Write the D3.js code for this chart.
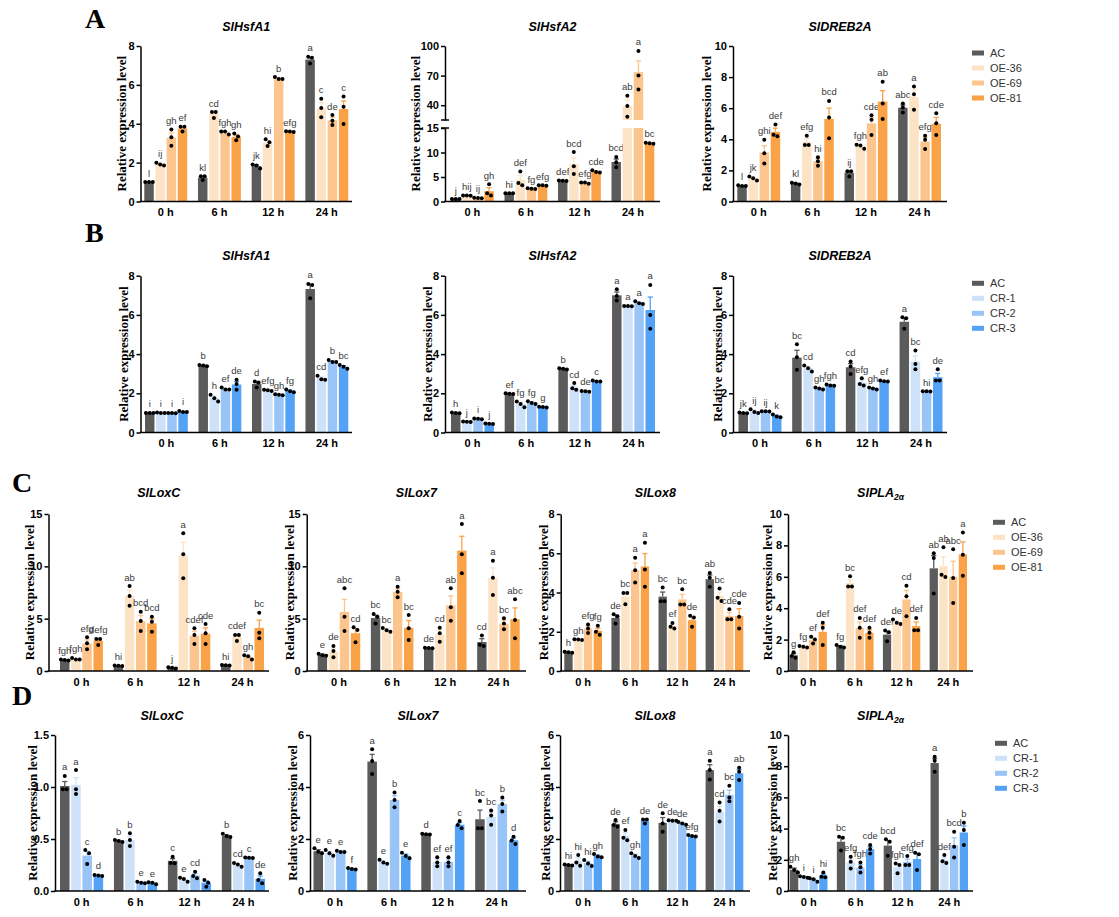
<!DOCTYPE html>
<meta charset="utf-8">
<head>
<title>Relative expression level</title>
<style>
  body{ margin:0; background:#fff; }
  svg text{ font-family: Arial, "Liberation Sans", sans-serif; }
  .tick text{ font-size:11px; font-weight:bold; fill:#000; }
  .tick line, .domain{ stroke:#000; stroke-width:1.5px; }
</style>
</head>
<body>
<div id="fig"></div>
<script src="https://d3js.org/d3.v7.min.js"></script>
<script>
// ---- data: rows = time points, columns = lines ----
var timePoints = ["0 h", "6 h", "12 h", "24 h"];
var linesOE = ["AC", "OE-36", "OE-69", "OE-81"];
var linesCR = ["AC", "CR-1", "CR-2", "CR-3"];

// A  SlHsfA1 (OE)
var aHsfA1Mean = [[1.0,1.92,3.29,3.75],[1.23,4.5,3.55,3.33],[1.82,3.03,6.33,3.6],[7.3,4.8,4.18,4.76]];
var aHsfA1Reps = [
  [[1.0,1.0,1.0],[2.0,1.9,1.85],[3.7,3.3,2.87],[3.85,3.85,3.6]],
  [[1.3,1.3,1.1],[4.6,4.6,4.3],[3.6,3.6,3.45],[3.5,3.35,3.15]],
  [[1.9,1.85,1.7],[3.2,3.05,2.85],[6.4,6.3,6.3],[3.62,3.6,3.58]],
  [[7.45,7.4,7.1],[5.28,4.81,4.33],[4.45,4.16,3.94],[5.4,4.88,3.99]]];
var aHsfA1Sig = [["l","ij","gh","ef"],["kl","cd","fgh","gh"],["jk","hi","b","efg"],["a","c","de","c"]];

// A  SlHsfA2 (OE), broken axis
var aHsfA2Mean = [[0.5,1.2,0.7,2.1],[1.7,4.4,2.6,3.25],[4.25,7.6,3.8,6.1],[8.05,39,73.5,11.9]];
var aHsfA2Reps = [
  [[0.5,0.5,0.5],[1.25,1.2,1.15],[0.75,0.7,0.65],[3.5,1.7,1.2]],
  [[1.7,1.7,1.7],[6.1,3.8,3.3],[2.7,2.6,2.55],[3.3,3.3,3.2]],
  [[4.3,4.25,4.2],[10.1,7.2,5.6],[3.9,3.9,3.6],[6.4,6.0,5.9]],
  [[9.1,8.0,7.0],[49.5,39.3,28.2],[95,70,56],[12.0,11.9,11.8]]];
var aHsfA2Sig = [["j","hij","ij","gh"],["hi","def","fg","efg"],["def","bcd","efg","cde"],["bcd","ab","a","bc"]];

// A  SlDREB2A (OE)
var aDrebMean = [[1.0,1.48,3.15,4.48],[1.15,3.83,2.58,5.31],[1.85,3.55,5.02,6.43],[6.03,6.73,3.86,5.0]];
var aDrebReps = [
  [[1.0,1.0,1.05],[1.6,1.5,1.35],[3.97,3.1,2.45],[4.95,4.3,4.2]],
  [[1.2,1.15,1.1],[4.23,3.63,3.63],[2.84,2.59,2.3],[6.47,5.4,4.06]],
  [[1.95,1.95,1.6],[3.65,3.6,3.4],[5.55,5.25,4.27],[7.7,6.3,5.3]],
  [[6.3,6.05,5.73],[7.4,6.9,5.9],[4.23,3.97,3.38],[5.68,5.04,4.27]]];
var aDrebSig = [["l","jk","ghi","def"],["kl","efg","hi","bcd"],["ij","fgh","cde","ab"],["abc","a","efg","cde"]];

// B  SlHsfA1 (CR)
var bHsfA1Mean = [[1.0,1.0,1.0,1.05],[3.42,1.75,2.2,2.45],[2.48,2.15,1.92,2.12],[7.32,2.77,3.62,3.35]];
var bHsfA1Reps = [
  [[1.0,1.0,1.0],[1.02,1.0,1.0],[1.0,1.0,0.98],[1.1,1.05,1.05]],
  [[3.45,3.42,3.38],[1.92,1.75,1.58],[2.3,2.2,2.2],[2.69,2.47,2.18]],
  [[2.6,2.55,2.3],[2.18,2.15,2.12],[1.95,1.92,1.9],[2.2,2.1,2.05]],
  [[7.58,7.53,6.85],[2.89,2.72,2.69],[3.7,3.6,3.6],[3.45,3.35,3.25]]];
var bHsfA1Sig = [["i","i","i","i"],["b","h","ef","de"],["d","efg","gh","fg"],["a","cd","b","bc"]];

// B  SlHsfA2 (CR)
var bHsfA2Mean = [[1.0,0.55,0.7,0.45],[1.98,1.45,1.52,1.3],[3.25,2.3,2.1,2.6],[7.0,6.45,6.6,6.25]];
var bHsfA2Reps = [
  [[1.02,1.0,0.98],[0.56,0.55,0.54],[0.72,0.7,0.68],[0.46,0.45,0.44]],
  [[2.0,1.98,1.97],[1.58,1.45,1.29],[1.6,1.5,1.45],[1.32,1.3,1.28]],
  [[3.28,3.25,3.22],[2.52,2.26,2.18],[2.12,2.1,2.08],[2.65,2.6,2.6]],
  [[7.31,6.97,6.73],[6.46,6.45,6.44],[6.7,6.6,6.55],[7.53,6.0,5.29]]];
var bHsfA2Sig = [["h","j","i","j"],["ef","fg","fg","g"],["b","cd","de","c"],["a","a","a","a"]];

// B  SlDREB2A (CR)
var bDrebMean = [[1.0,1.07,1.08,0.84],[3.82,3.27,2.25,2.41],[3.33,2.55,2.25,2.62],[5.65,3.62,2.1,2.82]];
var bDrebReps = [
  [[1.02,1.0,0.98],[1.19,1.04,0.99],[1.09,1.08,1.07],[0.92,0.82,0.78]],
  [[4.5,3.84,3.2],[3.42,3.28,3.11],[2.3,2.25,2.2],[2.45,2.4,2.38]],
  [[3.62,3.37,2.99],[2.77,2.48,2.4],[2.3,2.25,2.2],[2.65,2.62,2.6]],
  [[5.88,5.83,5.29],[4.18,3.5,3.23],[2.11,2.1,2.09],[3.23,2.65,2.65]]];
var bDrebSig = [["jk","ij","ij","k"],["bc","cd","gh","fgh"],["cd","efg","gh","ef"],["a","bc","hi","de"]];

// C  SlLoxC (OE)
var cLoxCMean = [[1.05,1.15,2.64,2.9],[0.5,7.18,4.76,4.55],[0.3,11.05,3.37,3.56],[0.55,3.25,1.33,4.12]];
var cLoxCReps = [
  [[1.1,1.05,1.0],[1.25,1.1,1.1],[3.22,2.64,2.07],[3.06,3.06,2.48]],
  [[0.52,0.5,0.48],[8.12,7.17,6.24],[5.67,4.78,3.82],[5.19,4.71,3.76]],
  [[0.35,0.3,0.25],[13.15,11.15,8.85],[4.08,3.44,2.58],[4.49,3.6,2.58]],
  [[0.57,0.55,0.53],[3.44,3.44,2.87],[1.5,1.4,1.1],[5.57,3.66,3.12]]];
var cLoxCSig = [["fgh","fgh","efg","defg"],["hi","ab","bcd","bcd"],["j","a","cdef","cde"],["hi","cdef","gh","bc"]];

// C  SlLox7 (OE)
var cLox7Mean = [[1.55,1.87,5.64,3.61],[5.06,3.92,7.56,4.13],[2.2,3.51,6.27,11.5],[2.77,8.9,4.52,4.95]];
var cLox7Reps = [
  [[1.65,1.5,1.45],[2.39,1.91,1.31],[7.9,5.19,3.82],[4.17,3.92,2.74]],
  [[5.45,5.19,4.55],[4.1,3.9,3.75],[8.06,7.58,7.04],[5.35,4.08,2.96]],
  [[2.22,2.2,2.18],[4.14,3.6,2.8],[7.9,6.1,4.8],[14.04,11.15,9.33]],
  [[3.4,2.5,2.4],[10.54,8.92,7.26],[5.03,4.55,3.98],[6.85,4.87,3.12]]];
var cLox7Sig = [["e","de","abc","cd"],["bc","bc","a","bc"],["de","cd","ab","a"],["cd","a","bc","abc"]];

// C  SlLox8 (OE)
var cLox8Mean = [[0.96,1.6,2.16,2.05],[2.7,3.79,5.14,5.33],[3.79,2.29,3.65,2.59],[4.68,3.83,2.81,2.8]];
var cLox8Reps = [
  [[0.98,0.96,0.93],[1.62,1.6,1.58],[2.37,2.16,1.94],[2.3,2.0,1.85]],
  [[2.89,2.79,2.42],[3.98,3.98,3.4],[5.77,5.14,4.51],[6.54,5.17,4.29]],
  [[4.26,3.56,3.56],[2.45,2.25,2.16],[4.17,3.39,3.39],[2.81,2.72,2.25]],
  [[5.0,4.75,4.29],[4.2,3.73,3.57],[3.15,2.64,2.64],[3.47,2.76,2.16]]];
var cLox8Sig = [["h","gh","efg","fg"],["de","bc","a","a"],["bc","ef","bc","de"],["ab","bc","cde","cde"]];

// C  SlPLA2a (OE)
var cPlaMean = [[1.0,1.55,1.98,2.49],[1.57,5.6,2.75,2.43],[2.32,3.1,4.56,2.86],[6.54,6.67,6.0,7.43]];
var cPlaReps = [
  [[1.2,0.95,0.85],[1.6,1.55,1.5],[2.18,2.0,1.75],[3.07,2.75,1.65]],
  [[1.65,1.55,1.5],[6.03,5.39,5.39],[3.38,2.75,2.11],[2.75,2.43,2.11]],
  [[2.58,2.47,1.9],[3.28,3.07,3.0],[5.43,4.76,3.49],[3.38,2.6,2.6]],
  [[7.5,7.19,4.93],[7.89,6.13,5.99],[7.76,5.92,4.33],[8.82,7.4,6.07]]];
var cPlaSig = [["g","fg","ef","def"],["fg","bc","def","def"],["def","de","cd","def"],["ab","ab","abc","a"]];

// D  SlLoxC (CR)
var dLoxCMean = [[1.01,1.02,0.34,0.15],[0.48,0.49,0.08,0.077],[0.29,0.11,0.15,0.08],[0.53,0.253,0.32,0.117]];
var dLoxCReps = [
  [[1.106,0.978,0.978],[1.163,0.978,0.933],[0.394,0.362,0.26],[0.155,0.15,0.145]],
  [[0.49,0.48,0.47],[0.555,0.49,0.433],[0.09,0.08,0.074],[0.085,0.08,0.065]],
  [[0.33,0.27,0.266],[0.128,0.115,0.09],[0.186,0.144,0.122],[0.106,0.08,0.042]],
  [[0.55,0.53,0.52],[0.27,0.256,0.234],[0.322,0.32,0.318],[0.17,0.106,0.074]]];
var dLoxCSig = [["a","a","c","d"],["b","b","e","e"],["c","e","cd",""],["b","cd","c","de"]];

// D  SlLox7 (CR)
var dLox7Mean = [[1.53,1.46,1.52,0.85],[4.98,1.12,3.5,1.36],[2.18,1.12,1.12,2.55],[2.76,2.85,3.34,1.95]];
var dLox7Reps = [
  [[1.64,1.51,1.45],[1.58,1.45,1.36],[1.55,1.5,1.5],[0.88,0.85,0.83]],
  [[5.45,5.0,4.5],[1.2,1.1,1.05],[3.79,3.5,3.22],[1.47,1.35,1.26]],
  [[2.2,2.18,2.17],[1.3,1.1,0.95],[1.3,1.1,0.95],[2.69,2.54,2.41]],
  [[3.46,2.41,2.41],[3.1,2.9,2.55],[3.6,3.35,3.06],[2.09,1.94,1.81]]];
var dLox7Sig = [["e","e","e","f"],["a","e","b","e"],["d","ef","ef","c"],["bc","bc","b","d"]];

// D  SlLox8 (CR)
var dLox8Mean = [[1.0,1.15,1.07,1.35],[2.58,2.12,1.36,2.7],[2.62,2.7,2.6,2.12],[4.65,3.05,3.7,4.53]];
var dLox8Reps = [
  [[1.02,1.0,0.98],[1.38,1.1,0.97],[1.19,1.06,0.96],[1.42,1.33,1.3]],
  [[2.73,2.54,2.47],[2.35,2.05,1.95],[1.45,1.35,1.27],[2.75,2.75,2.6]],
  [[2.99,2.6,2.28],[2.72,2.7,2.7],[2.65,2.6,2.55],[2.15,2.12,2.1]],
  [[5.01,4.65,4.29],[3.4,3.09,2.67],[4.05,3.6,3.45],[4.74,4.59,4.27]]];
var dLox8Sig = [["hi","hi","hi","gh"],["de","ef","gh","de"],["de","de","de","efg"],["a","cd","bc","ab"]];

// D  SlPLA2a (CR)
var dPlaMean = [[1.36,0.9,0.72,0.99],[3.16,1.84,1.5,2.68],[2.91,1.52,1.86,2.05],[8.2,2.0,2.93,3.75]];
var dPlaReps = [
  [[1.56,1.35,1.18],[0.95,0.9,0.85],[0.81,0.75,0.6],[1.18,0.92,0.88]],
  [[3.48,3.42,2.59],[2.2,1.88,1.45],[1.82,1.52,1.18],[2.95,2.69,2.41]],
  [[3.31,3.16,2.26],[1.77,1.67,1.13],[2.24,1.67,1.67],[2.45,2.35,1.35]],
  [[8.61,8.35,7.65],[2.3,1.9,1.8],[3.8,2.84,2.14],[4.38,3.91,2.95]]];
var dPlaSig = [["gh","i","i","hi"],["bc","efg","fgh","cde"],["bcd","fgh","efg","def"],["a","def","bcd","b"]];

// ---- styles / layout ----
var colorsOE = ["#5b5b5b", "#fde3c6", "#fcc58e", "#f9a247"];
var colorsCR = ["#5b5b5b", "#cde1f9", "#98c4f7", "#54a2f6"];

var rows = {
  A: {top: 46,    bottom: 201.5, title: 31,  letter: 28},
  B: {top: 275.7, bottom: 432.5, title: 260, letter: 242},
  C: {top: 514,   bottom: 671,   title: 497, letter: 492},
  D: {top: 735,   bottom: 891,   title: 720, letter: 705}
};

var charts = [
  {row:"A", title:"SlHsfA1", sub:"", mean:aHsfA1Mean, reps:aHsfA1Reps, sig:aHsfA1Sig, oe:true, max:8, ticks:[0,2,4,6,8], ax:140.5, xEnd:352, r0:144.3, r1:348.3, ylab:19.5},
  {row:"A", title:"SlHsfA2", sub:"", mean:aHsfA2Mean, reps:aHsfA2Reps, sig:aHsfA2Sig, oe:true, broken:{lowMax:15, lowTicks:[0,5,10,15], lowTop:128, highMin:25, highMax:100, highTicks:[40,70,100], highBottom:120}, ax:445, xEnd:660, r0:451, r1:654.3, ylab:30},
  {row:"A", title:"SlDREB2A", sub:"", mean:aDrebMean, reps:aDrebReps, sig:aDrebSig, oe:true, max:10, ticks:[0,2,4,6,8,10], ax:733, xEnd:947, r0:737.3, r1:941, ylab:27},
  {row:"B", title:"SlHsfA1", sub:"", mean:bHsfA1Mean, reps:bHsfA1Reps, sig:bHsfA1Sig, oe:false, max:8, ticks:[0,2,4,6,8], ax:140.5, xEnd:352, r0:145, r1:348.3, ylab:17},
  {row:"B", title:"SlHsfA2", sub:"", mean:bHsfA2Mean, reps:bHsfA2Reps, sig:bHsfA2Sig, oe:false, max:8, ticks:[0,2,4,6,8], ax:445, xEnd:660, r0:451, r1:655, ylab:18},
  {row:"B", title:"SlDREB2A", sub:"", mean:bDrebMean, reps:bDrebReps, sig:bDrebSig, oe:false, max:8, ticks:[0,2,4,6,8], ax:733, xEnd:947, r0:738.5, r1:942.5, ylab:16},
  {row:"C", title:"SlLoxC", sub:"", mean:cLoxCMean, reps:cLoxCReps, sig:cLoxCSig, oe:true, max:15, ticks:[0,5,10,15], ax:48.5, xEnd:269, r0:60, r1:264, ylab:19},
  {row:"C", title:"SlLox7", sub:"", mean:cLox7Mean, reps:cLox7Reps, sig:cLox7Sig, oe:true, max:15, ticks:[0,5,10,15], ax:306.7, xEnd:526, r0:317.7, r1:519.7, ylab:17},
  {row:"C", title:"SlLox8", sub:"", mean:cLox8Mean, reps:cLox8Reps, sig:cLox8Sig, oe:true, max:8, ticks:[0,2,4,6,8], ax:560.7, xEnd:750, r0:564.3, r1:743.3, ylab:17},
  {row:"C", title:"SlPLA", sub:"2α", mean:cPlaMean, reps:cPlaReps, sig:cPlaSig, oe:true, max:10, ticks:[0,2,4,6,8,10], ax:788, xEnd:973, r0:789.5, r1:967, ylab:21},
  {row:"D", title:"SlLoxC", sub:"", mean:dLoxCMean, reps:dLoxCReps, sig:dLoxCSig, oe:false, max:1.5, ticks:[0,0.5,1,1.5], fmt:".1f", ax:55, xEnd:269, r0:60, r1:265, ylab:23},
  {row:"D", title:"SlLox7", sub:"", mean:dLox7Mean, reps:dLox7Reps, sig:dLox7Sig, oe:false, max:6, ticks:[0,2,4,6], ax:310, xEnd:526, r0:313.5, r1:518.3, ylab:18},
  {row:"D", title:"SlLox8", sub:"", mean:dLox8Mean, reps:dLox8Reps, sig:dLox8Sig, oe:false, max:6, ticks:[0,2,4,6], ax:560, xEnd:750, r0:564.3, r1:743.3, ylab:15},
  {row:"D", title:"SlPLA", sub:"2α", mean:dPlaMean, reps:dPlaReps, sig:dPlaSig, oe:false, max:10, ticks:[0,2,4,6,8,10], ax:788, xEnd:973, r0:790, r1:968, ylab:16}
];

var legends = [
  {row:"A", x:972, y0:53,    oe:true},
  {row:"B", x:972, y0:283.3, oe:false},
  {row:"C", x:993, y0:522.3, oe:true},
  {row:"D", x:995, y0:743.3, oe:false}
];

var svg = d3.select("#fig").append("svg")
  .attr("width", 1119).attr("height", 917);

// panel letters
[["A",85],["B",85],["C",12],["D",12]].forEach(function(p){
  svg.append("text").attr("x", p[1]).attr("y", rows[p[0]].letter)
    .style("font-family", "'Times New Roman','Liberation Serif',serif")
    .style("font-weight", "bold").style("font-size", "28px")
    .text(p[0]);
});

// spread dots sitting on top of each other sideways
function dotOffsets(ys){
  var idx = ys.map(function(d,i){ return i; }).sort(function(a,b){ return ys[a]-ys[b]; });
  var off = ys.map(function(){ return 0; });
  var groups = [], cur = [idx[0]];
  for (var k = 1; k < idx.length; k++){
    if (ys[idx[k]] - ys[cur[cur.length-1]] < 3.4) cur.push(idx[k]);
    else { groups.push(cur); cur = [idx[k]]; }
  }
  groups.push(cur);
  groups.forEach(function(g){
    g.forEach(function(i,j){ off[i] = (j - (g.length-1)/2) * 3.8; });
  });
  return off;
}

charts.forEach(function(c){
  var r = rows[c.row];
  var lines = c.oe ? linesOE : linesCR;
  var colors = c.oe ? colorsOE : colorsCR;
  var g = svg.append("g");

  // y scale (with optional break)
  var y, yLow, yHigh;
  if (c.broken){
    var b = c.broken;
    yLow = d3.scaleLinear().domain([0, b.lowMax]).range([r.bottom, b.lowTop]);
    yHigh = d3.scaleLinear().domain([b.highMin, b.highMax]).range([b.highBottom, r.top]);
    y = function(v){ return v <= b.lowMax ? yLow(v) : yHigh(v); };
  } else {
    y = d3.scaleLinear().domain([0, c.max]).range([r.bottom, r.top]);
  }

  var x0 = d3.scaleBand().domain(timePoints).range([c.r0, c.r1]).paddingInner(0.2).paddingOuter(0);
  var x1 = d3.scaleBand().domain(lines).range([0, x0.bandwidth()]).paddingInner(0.15);

  // bars
  timePoints.forEach(function(t, ti){
    lines.forEach(function(l, li){
      var m = c.mean[ti][li];
      var reps = c.reps[ti][li];
      var sem = d3.deviation(reps) / Math.sqrt(reps.length);
      var bx = x0(t) + x1(l), bw = x1.bandwidth(), cx = bx + bw/2;
      var col = colors[li];

      if (c.broken && m > c.broken.lowMax){
        g.append("rect").attr("x", bx).attr("width", bw)
          .attr("y", yLow(c.broken.lowMax)).attr("height", r.bottom - yLow(c.broken.lowMax)).attr("fill", col);
        g.append("rect").attr("x", bx).attr("width", bw)
          .attr("y", yHigh(m)).attr("height", c.broken.highBottom - yHigh(m)).attr("fill", col);
      } else {
        g.append("rect").attr("x", bx).attr("width", bw)
          .attr("y", y(m)).attr("height", r.bottom - y(m)).attr("fill", col);
      }

      // error bar (upper half)
      var ye = y(m + sem);
      g.append("line").attr("x1", cx).attr("x2", cx).attr("y1", y(m)).attr("y2", ye)
        .attr("stroke", col).attr("stroke-width", 1.3);
      g.append("line").attr("x1", cx - 2.6).attr("x2", cx + 2.6).attr("y1", ye).attr("y2", ye)
        .attr("stroke", col).attr("stroke-width", 1.3);

      // replicate dots
      var ys = reps.map(function(v){ return y(v); });
      var off = dotOffsets(ys);
      ys.forEach(function(yy, k){
        g.append("circle").attr("cx", cx + off[k]).attr("cy", yy).attr("r", 2).attr("fill", "#000");
      });

      // significance letters
      var topY = Math.min(d3.min(ys) - 2, ye);
      g.append("text").attr("x", cx).attr("y", topY - 3.5)
        .attr("text-anchor", "middle").style("font-size", "9.5px").style("fill", "#3a3a3a")
        .text(c.sig[ti][li]);
    });
  });

  // y axis
  if (c.broken){
    var b2 = c.broken;
    g.append("g").attr("transform", "translate(" + c.ax + ",0)")
      .call(d3.axisLeft(yLow).tickValues(b2.lowTicks).tickFormat(d3.format("d"))
        .tickSize(4).tickSizeOuter(0).tickPadding(2));
    g.append("g").attr("transform", "translate(" + c.ax + ",0)")
      .call(d3.axisLeft(yHigh).tickValues(b2.highTicks).tickFormat(d3.format("d"))
        .tickSize(4).tickSizeOuter(0).tickPadding(2));
    [b2.highBottom, b2.lowTop].forEach(function(yy){
      g.append("line").attr("x1", c.ax - 4).attr("x2", c.ax + 4).attr("y1", yy).attr("y2", yy)
        .attr("stroke", "#000").attr("stroke-width", 1.5);
    });
  } else {
    var ya = d3.axisLeft(y).tickValues(c.ticks).tickFormat(d3.format(c.fmt || "d"))
      .tickSize(4).tickSizeOuter(0).tickPadding(2);
    g.append("g").attr("transform", "translate(" + c.ax + ",0)").call(ya);
  }

  // x axis
  g.append("line").attr("x1", c.ax - 0.75).attr("x2", c.xEnd).attr("y1", r.bottom).attr("y2", r.bottom)
    .attr("stroke", "#000").attr("stroke-width", 1.5);
  var xa = g.append("g").attr("transform", "translate(0," + r.bottom + ")")
    .call(d3.axisBottom(x0).tickSize(0).tickPadding(7));
  xa.select(".domain").remove();

  // y label
  var my = (r.top + r.bottom) / 2, lx = c.ax - c.ylab;
  g.append("text").attr("transform", "translate(" + lx + "," + my + ") rotate(-90)")
    .attr("text-anchor", "middle").attr("dominant-baseline", "central")
    .style("font-family", "'Times New Roman','Liberation Serif',serif")
    .style("font-weight", "bold").style("font-size", "13px")
    .text("Relative expression level");

  // title
  var tt = g.append("text").attr("x", (c.ax + c.xEnd) / 2).attr("y", r.title)
    .attr("text-anchor", "middle").style("font-weight", "bold").style("font-style", "italic")
    .style("font-size", "12.5px").text(c.title);
  if (c.sub){
    tt.append("tspan").attr("dy", 3).style("font-size", "8.5px").text(c.sub);
  }
});

// legends
legends.forEach(function(lg){
  var lines = lg.oe ? linesOE : linesCR;
  var colors = lg.oe ? colorsOE : colorsCR;
  lines.forEach(function(l, i){
    var yy = lg.y0 + i * 15;
    svg.append("rect").attr("x", lg.x).attr("y", yy - 2.5).attr("width", 12).attr("height", 5).attr("fill", colors[i]);
    svg.append("text").attr("x", lg.x + 18).attr("y", yy + 4)
      .style("font-size", "11px").style("fill", "#333").text(l);
  });
});
</script>
</body>
